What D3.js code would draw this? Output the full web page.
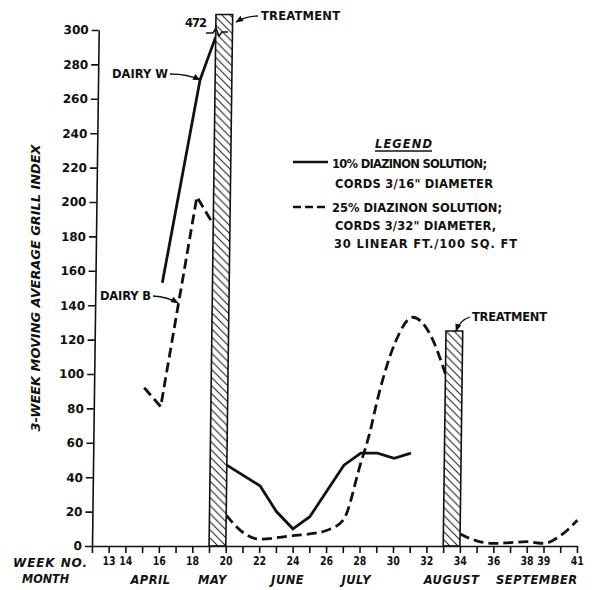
<!DOCTYPE html>
<html>
<head>
<meta charset="utf-8">
<script src="https://cdn.jsdelivr.net/npm/d3@7"></script>
<style>
  body { margin: 0; background: #fff; }
  svg { display: block; background: #fff; }
  text { font-family: "DejaVu Sans", sans-serif; font-weight: bold; fill: #111; }
  .ital { font-style: italic; }
</style>
</head>
<body>
<svg id="chart" width="594" height="590"></svg>
<script>
const weekTicks = d3.range(12, 42);
const weekLabels = [13, 14, 16, 18, 20, 22, 24, 26, 28, 30, 32, 34, 36, 38, 39, 41];
const valueTicks = d3.range(0, 301, 20);
const months = ['APRIL', 'MAY', 'JUNE', 'JULY', 'AUGUST', 'SEPTEMBER'];
const monthWeeks = [15.5, 19.2, 23.7, 27.8, 33.5, 38.6];

// solid = 10% diazinon, dashed = 25% diazinon, split where the treatment bars cut them
const solidWeeksA = [16, 18.1, 19];
const solidValuesA = [153, 271, 296];
const solidWeeksB = [20, 22, 23, 24, 25, 27, 28, 29, 30, 31];
const solidValuesB = [47, 35, 20, 10, 17, 47, 54, 54, 51, 54];
const dashWeeksA = [15, 16, 18, 19];
const dashValuesA = [92, 81, 203, 187];
const dashWeeksB = [20, 21, 22, 24, 25, 26, 27, 28, 28.5, 29, 30, 31, 32, 33];
const dashValuesB = [18, 8, 4, 6, 7, 9, 15, 48, 65, 87, 119, 133, 124, 100];
const dashWeeksC = [34, 35, 36, 37, 38, 39, 40, 41];
const dashValuesC = [7, 3, 1.5, 2, 2.5, 1.5, 6, 15];

const treatStart = [19, 33];
const treatEnd = [20, 34];
const treatTop = [309, 125];

const legendLines = ['10% DIAZINON SOLUTION;', 'CORDS 3/16" DIAMETER',
  '25% DIAZINON SOLUTION;', 'CORDS 3/32" DIAMETER,', '30 LINEAR FT./100 SQ. FT'];

const ink = '#111';
const svg = d3.select('#chart');

const x = d3.scaleLinear().domain([12, 41]).range([92, 577]);
const y = d3.scaleLinear().domain([0, 300]).range([546, 30]);

const defs = svg.append('defs');
defs.append('pattern')
  .attr('id', 'hatch')
  .attr('patternUnits', 'userSpaceOnUse')
  .attr('width', 8)
  .attr('height', 8)
  .append('path')
  .attr('d', 'M-2,-2 L10,10 M-2,6 L2,10 M6,-2 L10,2')
  .attr('stroke', ink)
  .attr('stroke-width', 1);

defs.append('marker')
  .attr('id', 'arrow')
  .attr('viewBox', '0 0 10 10')
  .attr('refX', 9)
  .attr('refY', 5)
  .attr('markerWidth', 6)
  .attr('markerHeight', 6)
  .attr('orient', 'auto')
  .append('path')
  .attr('d', 'M0,1 L10,5 L0,9 z')
  .attr('fill', ink);

// the scanned original leans a little: its top sits ~7px right of the bottom
const lean = -6.7 / (y(0) - y(300));
const plot = svg.append('g')
  .attr('transform', `translate(${-lean * y(0)},0) skewX(${Math.atan(lean) * 180 / Math.PI})`);

const yAxis = d3.axisLeft(y)
  .tickValues(valueTicks)
  .tickSize(7)
  .tickSizeOuter(0)
  .tickPadding(3);

const xAxis = d3.axisBottom(x)
  .tickValues(weekTicks)
  .tickSize(7)
  .tickSizeOuter(0)
  .tickPadding(3)
  .tickFormat(d => weekLabels.includes(d) ? d : '');

const series = [
  { weeks: solidWeeksA, values: solidValuesA, dash: null, curve: d3.curveLinear },
  { weeks: solidWeeksB, values: solidValuesB, dash: null, curve: d3.curveLinear },
  { weeks: dashWeeksA, values: dashValuesA, dash: '10,5', curve: d3.curveLinear },
  { weeks: dashWeeksB, values: dashValuesB, dash: '10,5', curve: d3.curveMonotoneX },
  { weeks: dashWeeksC, values: dashValuesC, dash: '10,5', curve: d3.curveMonotoneX },
];

plot.append('g')
  .attr('class', 'lines')
  .selectAll('path')
  .data(series)
  .join('path')
  .attr('fill', 'none')
  .attr('stroke', ink)
  .attr('stroke-width', 2.8)
  .attr('stroke-dasharray', d => d.dash)
  .attr('d', d => d3.line().curve(d.curve)
    .x((w, i) => x(w))
    .y((w, i) => y(d.values[i]))(d.weeks));

const bars = plot.append('g')
  .attr('class', 'treatment')
  .selectAll('g')
  .data(treatStart.map((s, i) => ({ start: s, end: treatEnd[i], top: treatTop[i] })))
  .join('g');

bars.append('rect')
  .attr('x', d => x(d.start))
  .attr('y', d => y(d.top))
  .attr('width', d => x(d.end) - x(d.start))
  .attr('height', d => y(0) - y(d.top))
  .attr('fill', '#fff');

bars.append('rect')
  .attr('x', d => x(d.start))
  .attr('y', d => y(d.top))
  .attr('width', d => x(d.end) - x(d.start))
  .attr('height', d => y(0) - y(d.top))
  .attr('fill', 'url(#hatch)')
  .attr('stroke', ink)
  .attr('stroke-width', 1.6);

const yG = plot.append('g')
  .attr('transform', `translate(${x(12)},0)`)
  .call(yAxis);

const xG = plot.append('g')
  .attr('transform', `translate(0,${y(0)})`)
  .call(xAxis);

[yG, xG].forEach(g => {
  g.selectAll('.domain, .tick line').attr('stroke', ink).attr('stroke-width', 1.6);
  g.selectAll('text').attr('font-size', 12).attr('fill', ink)
    .style('font-family', '"DejaVu Sans", sans-serif').style('font-weight', 'bold');
});

// lettering on the original has narrow numerals; squeeze the week labels so neighbours don't touch
xG.selectAll('.tick text')
  .filter(d => weekLabels.includes(d))
  .attr('textLength', 13)
  .attr('lengthAdjust', 'spacingAndGlyphs');

// annotations, placed in page pixels
const notes = svg.append('g').attr('class', 'notes');

notes.append('text').attr('x', 261).attr('y', 16).attr('dy', '0.35em')
  .attr('font-size', 11.5).attr('textLength', 79).text('TREATMENT');
notes.append('path').attr('d', 'M258,16 Q246,16 236,22');

notes.append('text').attr('x', 472).attr('y', 317).attr('dy', '0.35em')
  .attr('font-size', 11.5).attr('textLength', 75).text('TREATMENT');
notes.append('path').attr('d', 'M470,317 Q460,320 456,331');

notes.append('text').attr('x', 112).attr('y', 74).attr('dy', '0.35em')
  .attr('font-size', 11.5).attr('textLength', 56).text('DAIRY W');
notes.append('path').attr('d', 'M170,74 Q188,74 200,80');

notes.append('text').attr('x', 100).attr('y', 296).attr('dy', '0.35em')
  .attr('font-size', 11.5).attr('textLength', 51).text('DAIRY B');
notes.append('path').attr('d', 'M153,296 Q168,297 178,303');

notes.selectAll('path')
  .attr('fill', 'none')
  .attr('stroke', ink)
  .attr('stroke-width', 1.3)
  .attr('marker-end', 'url(#arrow)');

notes.append('text').attr('x', 185).attr('y', 23).attr('dy', '0.35em')
  .attr('font-size', 11.5).attr('textLength', 22).text('472');
notes.append('path')
  .attr('d', 'M206,33 H213 L216,28 L219,36 L222,32 H228')
  .attr('fill', 'none')
  .attr('stroke', ink)
  .attr('stroke-width', 1.5);

// legend
const legend = svg.append('g').attr('class', 'legend');
legend.append('text').attr('class', 'ital').attr('x', 375).attr('y', 144).attr('dy', '0.35em')
  .attr('font-size', 11.5).attr('textLength', 57).text('LEGEND');
legend.append('line').attr('x1', 375).attr('x2', 432).attr('y1', 151).attr('y2', 151)
  .attr('stroke', ink).attr('stroke-width', 1.3);

legend.append('line').attr('x1', 293).attr('x2', 328).attr('y1', 162).attr('y2', 162)
  .attr('stroke', ink).attr('stroke-width', 2.6);
legend.append('line').attr('x1', 293).attr('x2', 328).attr('y1', 207).attr('y2', 207)
  .attr('stroke', ink).attr('stroke-width', 2.6).attr('stroke-dasharray', '8,4');

const legendX = [332, 335, 332, 335, 334];
const legendY = [164, 184, 208, 226, 244];
const legendW = [155, 158, 170, 161, 183];
legend.selectAll('text.item')
  .data(legendLines)
  .join('text')
  .attr('class', 'item')
  .attr('x', (d, i) => legendX[i])
  .attr('y', (d, i) => legendY[i])
  .attr('dy', '0.35em')
  .attr('font-size', 11.5)
  .attr('textLength', (d, i) => legendW[i])
  .text(d => d);

// axis titles
svg.append('text')
  .attr('class', 'ital')
  .attr('transform', 'translate(35,288) rotate(-90)')
  .attr('text-anchor', 'middle')
  .attr('dy', '0.35em')
  .attr('font-size', 13)
  .attr('textLength', 287)
  .attr('lengthAdjust', 'spacingAndGlyphs')
  .text('3-WEEK MOVING AVERAGE GRILL INDEX');

svg.append('text').attr('class', 'ital').attr('x', 13).attr('y', 563).attr('dy', '0.35em')
  .attr('font-size', 12).attr('textLength', 74).text('WEEK NO.');
svg.append('text').attr('class', 'ital').attr('x', 22).attr('y', 579).attr('dy', '0.35em')
  .attr('font-size', 12).attr('textLength', 47).attr('lengthAdjust', 'spacingAndGlyphs').text('MONTH');

svg.append('g')
  .selectAll('text')
  .data(months)
  .join('text')
  .attr('class', 'ital')
  .attr('x', (d, i) => x(monthWeeks[i]))
  .attr('y', 580)
  .attr('dy', '0.35em')
  .attr('text-anchor', 'middle')
  .attr('font-size', 11.5)
  .attr('letter-spacing', 0.5)
  .text(d => d);
</script>
</body>
</html>
